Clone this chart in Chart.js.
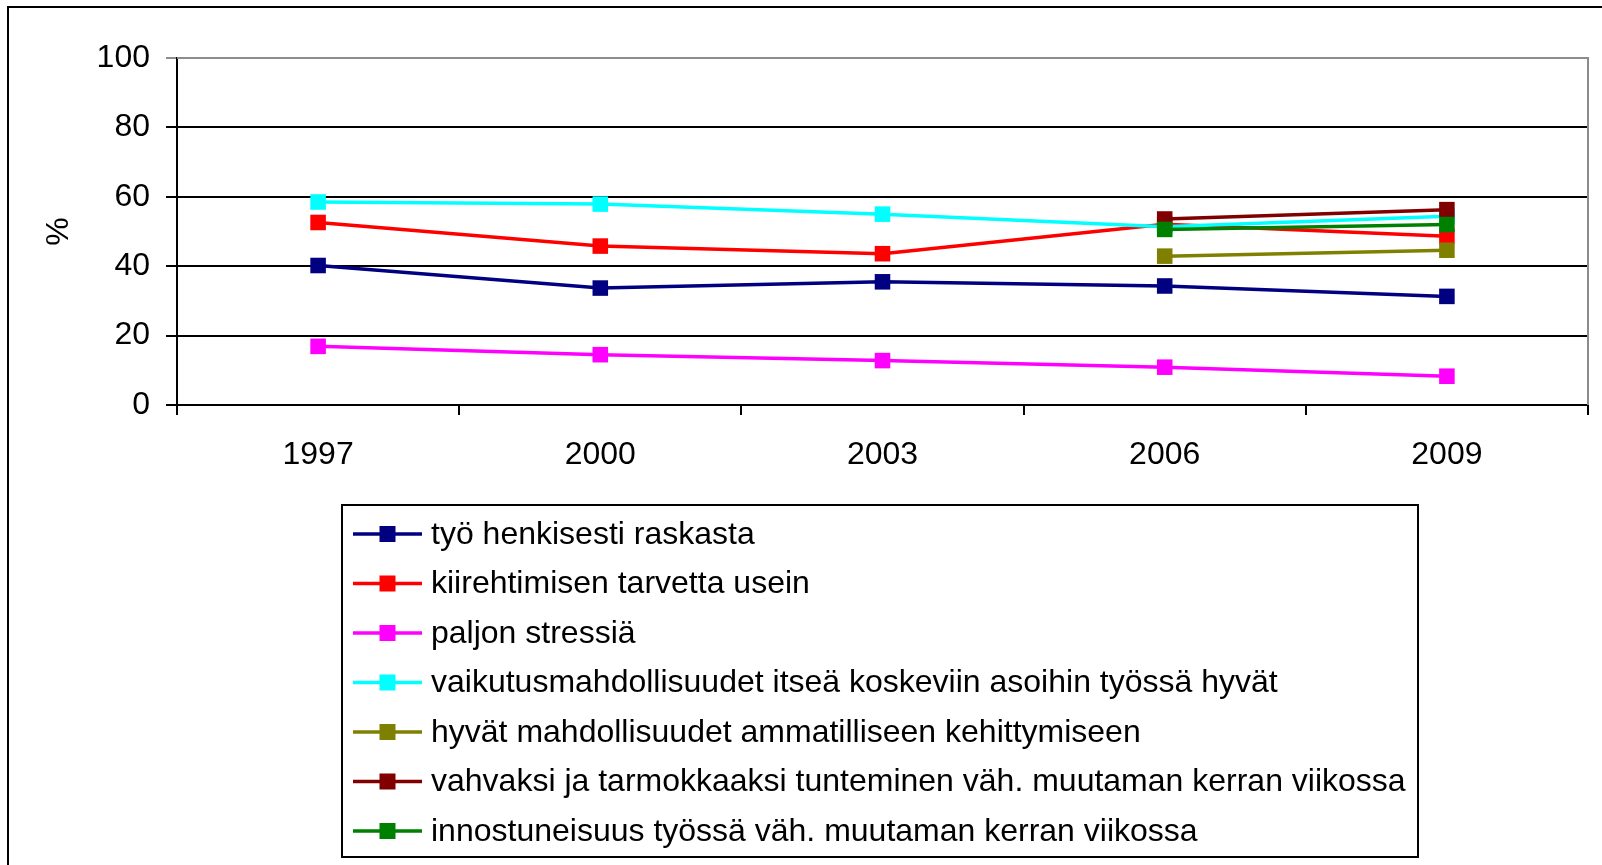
<!DOCTYPE html>
<html>
<head>
<meta charset="utf-8">
<script src="https://cdn.jsdelivr.net/npm/chart.js@4/dist/chart.umd.min.js"></script>
<style>
  html, body { margin: 0; padding: 0; background: #fff; overflow: hidden; }
</style>
</head>
<body>
<canvas id="chart" width="1602" height="865"></canvas>
<script>
const years = ['1997', '2000', '2003', '2006', '2009'];
const yTicks = [0, 20, 40, 60, 80, 100];

const labels = [
    'työ henkisesti raskasta',
    'kiirehtimisen tarvetta usein',
    'paljon stressiä',
    'vaikutusmahdollisuudet itseä koskeviin asoihin työssä hyvät',
    'hyvät mahdollisuudet ammatilliseen kehittymiseen',
    'vahvaksi ja tarmokkaaksi tunteminen väh. muutaman kerran viikossa',
    'innostuneisuus työssä väh. muutaman kerran viikossa'
];
const colors = ['#000080', '#FF0000', '#FF00FF', '#00FFFF', '#808000', '#800000', '#008000'];

const tyoRaskasta = [40.2, 33.7, 35.5, 34.3, 31.3];
const kiirehtiminen = [52.6, 45.8, 43.6, 52.1, 48.6];
const stressi = [16.9, 14.5, 12.8, 10.9, 8.3];
const vaikutusmahdollisuudet = [58.5, 57.9, 55.0, 51.4, 54.4];
const ammatillinen = [null, null, null, 42.9, 44.6];
const tarmokkuus = [null, null, null, 53.6, 56.3];
const innostuneisuus = [null, null, null, 50.6, 52.0];

const seriesData = [tyoRaskasta, kiirehtiminen, stressi, vaikutusmahdollisuudet,
    ammatillinen, tarmokkuus, innostuneisuus];

const FONT = '"Liberation Sans", Arial, sans-serif';

// outer frame + grey plot border on top and right
const framePlugin = {
    id: 'frame',
    beforeDraw(chart) {
        const ctx = chart.ctx;
        ctx.save();
        ctx.strokeStyle = '#000';
        ctx.lineWidth = 2;
        ctx.strokeRect(8, 7, 1700, 1000);
        ctx.restore();
    },
    beforeDatasetsDraw(chart) {
        const { ctx, chartArea: a } = chart;
        ctx.save();
        ctx.strokeStyle = '#8c8c8c';
        ctx.lineWidth = 2;
        ctx.beginPath();
        ctx.moveTo(a.left, a.top);
        ctx.lineTo(a.right, a.top);
        ctx.lineTo(a.right, a.bottom);
        ctx.stroke();
        ctx.restore();
    }
};

// boxed legend, one series per row
const boxLegend = {
    id: 'boxLegend',
    afterDraw(chart) {
        const ctx = chart.ctx;
        const box = { x: 342, y: 505, w: 1076, h: 352 };
        ctx.save();
        ctx.fillStyle = '#fff';
        ctx.fillRect(box.x, box.y, box.w, box.h);
        ctx.strokeStyle = '#000';
        ctx.lineWidth = 2;
        ctx.strokeRect(box.x, box.y, box.w, box.h);
        ctx.font = '32px ' + FONT;
        ctx.textBaseline = 'middle';
        ctx.textAlign = 'left';
        chart.data.datasets.forEach((ds, i) => {
            const y = 534 + i * 49.5;
            ctx.strokeStyle = ds.borderColor;
            ctx.lineWidth = 3.5;
            ctx.beginPath();
            ctx.moveTo(353, y);
            ctx.lineTo(422, y);
            ctx.stroke();
            ctx.fillStyle = ds.borderColor;
            ctx.fillRect(387.5 - 8, y - 8, 16, 16);
            ctx.fillStyle = '#000';
            ctx.fillText(ds.label, 431, y + 1);
        });
        ctx.restore();
    }
};

const ctx = document.getElementById('chart').getContext('2d');

new Chart(ctx, {
    type: 'line',
    data: {
        labels: years,
        datasets: seriesData.map((d, i) => ({
            label: labels[i],
            data: d,
            borderColor: colors[i],
            backgroundColor: colors[i],
            pointBackgroundColor: colors[i],
            pointBorderColor: colors[i],
            pointStyle: 'rect',
            pointRadius: 11,
            pointBorderWidth: 0,
            borderWidth: 3.5,
            tension: 0,
            fill: false,
            spanGaps: false,
            order: seriesData.length - i
        }))
    },
    options: {
        responsive: false,
        animation: false,
        events: [],
        layout: { padding: { left: 0, top: 58, right: 14, bottom: 390 } },
        plugins: {
            legend: { display: false },
            tooltip: { enabled: false }
        },
        scales: {
            x: {
                offset: true,
                grid: {
                    offset: true,
                    drawOnChartArea: false,
                    drawTicks: true,
                    tickLength: 10,
                    color: '#000',
                    lineWidth: 2
                },
                border: { display: true, color: '#000', width: 2 },
                ticks: {
                    color: '#000',
                    font: { family: FONT, size: 32 },
                    padding: 21,
                    maxRotation: 0
                },
                afterFit(scale) { scale.height = 70; }
            },
            y: {
                min: 0,
                max: 100,
                afterBuildTicks(scale) {
                    scale.ticks = yTicks.map(v => ({ value: v }));
                },
                grid: {
                    color: (c) => (c.tick && c.tick.value === 100 ? '#8c8c8c' : '#000'),
                    lineWidth: 2,
                    tickLength: 11,
                    drawTicks: true
                },
                border: { display: true, color: '#000', width: 2 },
                ticks: {
                    color: '#000',
                    font: { family: FONT, size: 32 },
                    padding: 16
                },
                title: {
                    display: true,
                    text: '%',
                    color: '#000',
                    font: { family: FONT, size: 32 },
                    padding: { top: 40, bottom: 0 }
                },
                afterFit(scale) { scale.width = 177; }
            }
        }
    },
    plugins: [framePlugin, boxLegend]
});
</script>
</body>
</html>
